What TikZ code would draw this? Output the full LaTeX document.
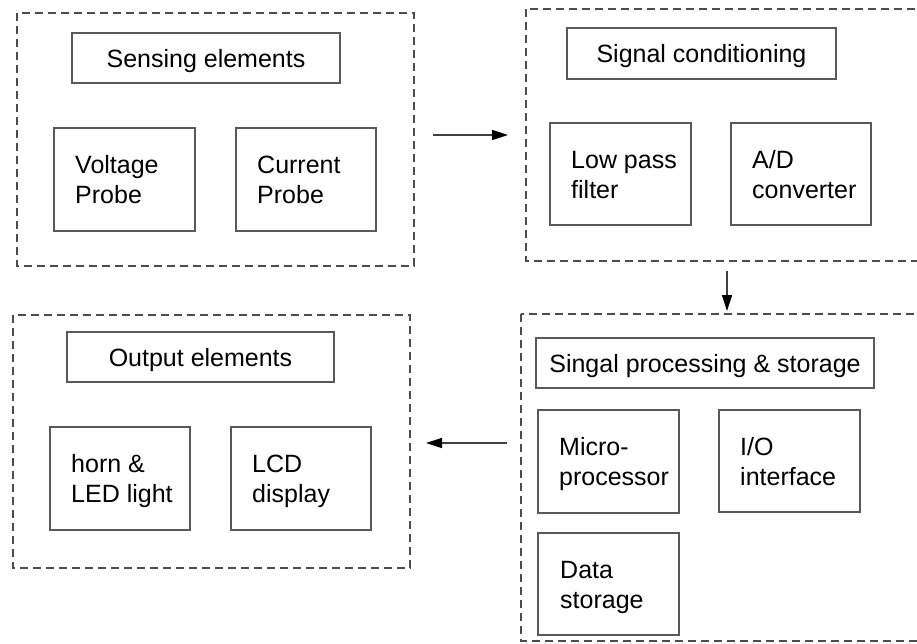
\documentclass[tikz,border=0pt]{standalone}
\usepackage{fontspec}
\setmainfont{Liberation Sans}
\usetikzlibrary{arrows.meta}

\tikzset{
  grp/.style={draw=black!70, line width=1.3pt, dash pattern=on 8pt off 5pt},
  blk/.style={draw=black!65, line width=1.5pt},
  head/.style={inner sep=0pt, text height=18pt, text depth=0pt,
    font=\fontsize{25}{30}\selectfont},
  body/.style={inner sep=0pt, anchor=west, align=left, text height=48pt,
    text depth=0pt, font=\fontsize{25}{30}\selectfont},
  flow/.style={draw=black!75, line width=1.6pt,
    -{Triangle[length=16pt,width=10pt,color=black]}},
}

% a solid box spanning (x1,y1)-(x2,y2) named #1
\newcommand{\blkbox}[5]{%
  \draw[blk] (#2,#3) rectangle (#4,#5);
  \coordinate (#1-w) at (#2,{(#3+#5)/2});
  \coordinate (#1-c) at ({(#2+#4)/2},{(#3+#5)/2});
}

\begin{document}
\begin{tikzpicture}[x=1pt,y=-1pt]
\useasboundingbox (0,0) rectangle (917,643);
\clip (0,0) rectangle (917,643);

% stage outlines
\draw[grp] (17,13) rectangle (414,266);
\draw[grp] (526,9) rectangle (930,261);
\draw[grp] (521,314) rectangle (930,641);
\draw[grp] (13,315) rectangle (410,568);

% sensing
\blkbox{sens}{72}{33}{340}{83}
\node[head] (tsens) at (sens-c) {Sensing elements};
\blkbox{volt}{54}{128}{195}{231}
\node[body] (tvolt) at ([xshift=21pt]volt-w) {Voltage\\Probe};
\blkbox{curr}{236}{128}{376}{231}
\node[body] (tcurr) at ([xshift=21pt]curr-w) {Current\\Probe};

% conditioning
\blkbox{cond}{567}{28}{836}{79}
\node[head] (tcond) at (cond-c) {Signal conditioning};
\blkbox{lpf}{550}{123}{691}{225}
\node[body] (tlpf) at ([xshift=21pt]lpf-w) {Low pass\\filter};
\blkbox{adc}{731}{123}{871}{225}
\node[body] (tadc) at ([xshift=21pt]adc-w) {A/D\\converter};

% processing
\blkbox{proc}{536}{338}{874}{388}
\node[head] (tproc) at (proc-c) {Singal processing \& storage};
\blkbox{mcu}{538}{410}{679}{513}
\node[body] (tmcu) at ([xshift=21pt]mcu-w) {Micro-\\processor};
\blkbox{io}{719}{410}{860}{512}
\node[body] (tio) at ([xshift=21pt]io-w) {I/O\\interface};
\blkbox{data}{538}{533}{679}{635}
\node[body] (tdata) at ([xshift=22pt]data-w) {Data\\storage};

% output
\blkbox{outp}{67}{332}{334}{382}
\node[head] (toutp) at (outp-c) {Output elements};
\blkbox{horn}{50}{427}{190}{530}
\node[body] (thorn) at ([xshift=21pt]horn-w) {horn \&\\LED light};
\blkbox{lcd}{231}{427}{371}{530}
\node[body] (tlcd) at ([xshift=21pt]lcd-w) {LCD\\display};

% flow between stages
\coordinate (f1a) at (433,135);
\coordinate (f1b) at (508,135);
\coordinate (f2a) at (727,271);
\coordinate (f2b) at (727,311);
\coordinate (f3a) at (507,443);
\coordinate (f3b) at (426,443);
\draw[flow] (f1a) -- (f1b);
\draw[flow] (f2a) -- (f2b);
\draw[flow] (f3a) -- (f3b);
\end{tikzpicture}
\end{document}
